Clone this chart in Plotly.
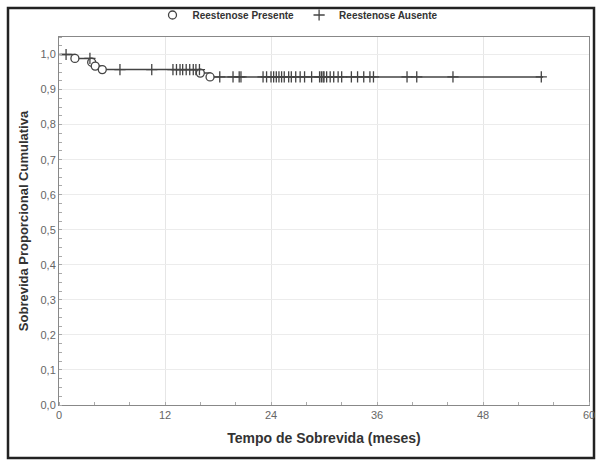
import numpy as np
import plotly.graph_objects as go

# Event times (months) and survival after each event
event_times = [1.8, 3.7, 4.1, 4.9, 16.0, 17.1]
event_surv = [0.989, 0.978, 0.967, 0.957, 0.947, 0.936]
# Censored times (months)
censor_times = [0.8, 3.5, 6.9, 10.5, 12.9, 13.3, 13.7, 14.0, 14.4, 14.8, 15.2, 15.5, 15.9,
                18.2, 19.7, 20.4, 20.6, 23.1, 23.5, 24.0, 24.3, 24.6, 24.9, 25.2, 25.5,
                26.0, 26.3, 26.8, 27.3, 27.8, 28.6, 29.5, 29.7, 29.9, 30.0, 30.3, 30.7,
                31.1, 31.6, 32.0, 33.1, 33.8, 34.5, 35.2, 35.6, 39.4, 40.5, 44.6, 54.6]
end_time = 54.8
x_ticks = [0, 12, 24, 36, 48, 60]
y_ticks = [0.0, 0.1, 0.2, 0.3, 0.4, 0.5, 0.6, 0.7, 0.8, 0.9, 1.0]

line_x = [0.0] + event_times + [end_time]
line_y = [1.0] + event_surv + [event_surv[-1]]

ev = np.array(event_times)
sv = np.array([1.0] + event_surv)
censor_y = [sv[np.searchsorted(ev, t, side="right")] for t in censor_times]

col = "#444444"
fig = go.Figure()
fig.add_trace(go.Scatter(x=line_x, y=line_y, mode="lines", line=dict(color=col, width=1.5, shape="hv"),
                         showlegend=False, hoverinfo="skip"))
fig.add_trace(go.Scatter(x=event_times, y=event_surv, mode="markers", name="<b>Reestenose Presente</b>",
                         marker=dict(symbol="circle", size=8, color="white", line=dict(color=col, width=1.3))))
fig.add_trace(go.Scatter(x=censor_times, y=censor_y, mode="markers", name="<b>Reestenose Ausente</b>",
                         marker=dict(symbol="cross-thin", size=8, color=col, line=dict(color=col, width=1.3))))

L, R, T, B = 59, 7, 37, 58
W, H = 596, 463
pw, ph = W - L - R, H - T - B

def px(x):
    return (x - L) / pw

def py(y):
    return (H - B - y) / ph

fig.add_shape(type="rect", xref="paper", yref="paper", x0=px(8), x1=px(594), y0=py(458), y1=py(8),
              line=dict(color="#222222", width=2.5), layer="below")

fig.update_layout(
    width=W, height=H, margin=dict(l=L, r=R, t=T, b=B, autoexpand=False),
    paper_bgcolor="white", plot_bgcolor="white",
    separators=",.",
    font=dict(family="Liberation Sans, Arial, sans-serif", color="#333333"),
    legend=dict(orientation="h", x=px(298), xanchor="center", y=py(15), yanchor="middle",
                font=dict(size=10, color="#333333", family="Liberation Sans, Arial, sans-serif"),
                itemwidth=30, tracegroupgap=0, bgcolor="rgba(0,0,0,0)"),
    xaxis=dict(range=[0, 60], tickvals=x_ticks, showgrid=True, gridcolor="#e6e6e6", gridwidth=1,
               showline=True, linecolor="#888888", linewidth=1, mirror=True, zeroline=False,
               ticks="", ticklen=0, tickfont=dict(size=11, color="#666666"), automargin=False,
               minor=dict(dtick=4, ticks="inside", ticklen=3, tickcolor="#aaaaaa", showgrid=False),
               title=dict(text="<b>Tempo de Sobrevida (meses)</b>", font=dict(size=14, color="#333333"), standoff=12)),
    yaxis=dict(range=[0, 1.05], tickvals=y_ticks, tickformat=".1f", showgrid=True, gridcolor="#ececec",
               gridwidth=1, showline=True, linecolor="#888888", linewidth=1, mirror=True, zeroline=False,
               ticks="", ticklen=0, tickfont=dict(size=11, color="#666666"), automargin=False,
               minor=dict(dtick=0.025, ticks="inside", ticklen=3, tickcolor="#aaaaaa", showgrid=False),
               title=dict(text="<b>Sobrevida Proporcional Cumulativa</b>", font=dict(size=13, color="#333333"), standoff=8)),
)

fig.write_html("out.html", config={"displayModeBar": False},
               post_script="document.body.style.margin='0';document.body.style.overflow='hidden';")
